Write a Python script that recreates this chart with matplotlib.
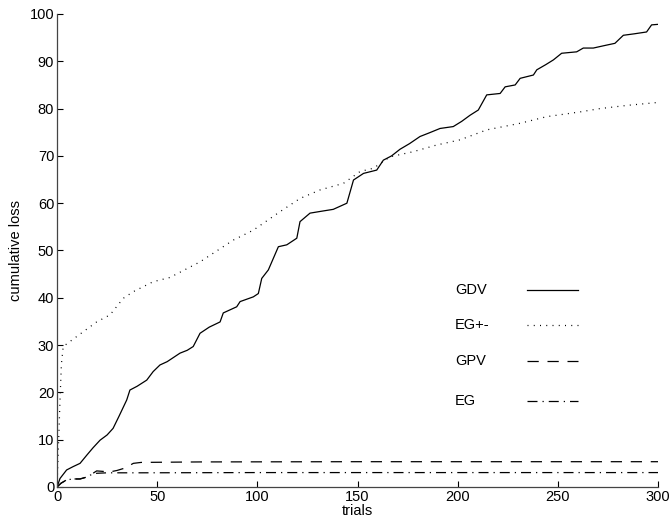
import matplotlib
matplotlib.use("Agg")
import matplotlib.pyplot as plt

plt.rcParams['font.family'] = ['Liberation Sans', 'DejaVu Sans']

# Cumulative loss of each algorithm over the trials
gdv_trials = [0, 1.5, 4.8, 8, 11.5, 15, 18, 21.5, 25, 28, 31, 34.8, 36.4, 40, 44.8, 48, 51.4, 55, 61.4, 65, 68, 71.4,
              76, 81.4, 83, 89.7, 91.4, 98, 100.5, 102.2, 105.5, 110.5, 114.7, 119.7, 121.3, 126.3, 132, 137.9, 144.7,
              148, 153, 159.6, 162.9, 167, 171.2, 176, 181.2, 186, 191.2, 197.8, 202, 206.2, 210.3, 214.5, 221.2,
              223.7, 228.7, 231.2, 237.8, 239.5, 244, 247.8, 251.9, 259.4, 262.7, 267.7, 273, 278.5, 282.7, 288,
              294.3, 296.8, 299.7]
gdv_loss = [0, 1.8, 3.6, 4.3, 5.0, 6.8, 8.3, 9.9, 11.0, 12.4, 15.0, 18.4, 20.5, 21.3, 22.6, 24.4, 25.8, 26.5, 28.3,
            28.9, 29.7, 32.5, 33.8, 34.9, 36.8, 38.1, 39.2, 40.2, 40.9, 44.1, 45.9, 50.8, 51.2, 52.6, 56.1, 57.9,
            58.3, 58.7, 60.0, 64.9, 66.3, 67.0, 69.1, 70.0, 71.4, 72.6, 74.1, 74.9, 75.8, 76.2, 77.3, 78.6, 79.7,
            82.9, 83.2, 84.6, 85.0, 86.4, 87.1, 88.2, 89.3, 90.3, 91.7, 92.0, 92.8, 92.8, 93.3, 93.8, 95.5, 95.8,
            96.2, 97.7, 97.8]

egpm_trials = [0, 0.5, 1, 1.5, 2.2, 3.1, 9.8, 19.8, 26.5, 33.1, 38.1, 48, 56.4, 71.4, 88, 98, 111.3, 121.3, 131.3,
               143, 151.3, 158, 166.2, 177.9, 189.5, 201.2, 214.5, 231.2, 244.5, 261.1, 271, 285, 300]
egpm_loss = [0, 6, 12, 18.4, 26, 29.7, 31.8, 34.9, 36.4, 39.9, 41.3, 43.4, 44.3, 47.6, 52.2, 54.3, 58.2, 61.0, 62.8,
             64.2, 66.7, 67.4, 69.8, 70.9, 72.3, 73.4, 75.5, 76.9, 78.3, 79.3, 80.0, 80.7, 81.3]

gpv_trials = [0, 2, 4.8, 8, 11.5, 14, 16.5, 19.8, 23, 26.5, 30, 33.1, 36, 38.1, 42, 71.4, 150, 300]
gpv_loss = [0, 0.8, 1.5, 1.7, 1.7, 2.0, 2.5, 3.4, 3.3, 3.2, 3.5, 3.9, 4.5, 5.0, 5.2, 5.3, 5.35, 5.35]

eg_trials = [0, 2, 4.8, 8, 11.5, 14, 16.5, 19.8, 25, 40, 100, 300]
eg_loss = [0, 0.8, 1.5, 1.7, 1.7, 2.0, 2.5, 2.9, 3.0, 3.0, 3.05, 3.05]

series_names = ['GDV', 'EG+-', 'GPV', 'EG']

x_ticks = [0, 50, 100, 150, 200, 250, 300]
y_ticks = [0, 10, 20, 30, 40, 50, 60, 70, 80, 90, 100]

FS = 10.5
W, H = 670, 523
fig = plt.figure(figsize=(W / 100, H / 100), dpi=100)
ax_l, ax_r, ax_t, ax_b = 57, 658, 14, 487
ax = fig.add_axes([ax_l / W, 1 - ax_b / H, (ax_r - ax_l) / W, (ax_b - ax_t) / H])

lw = 0.9
styles = ['-', (0, (0.8, 4.2)), (0, (9, 7)), (0, (8, 4, 1, 4))]
data = [(gdv_trials, gdv_loss), (egpm_trials, egpm_loss), (gpv_trials, gpv_loss), (eg_trials, eg_loss)]
for (xs, ys), ls, name in zip(data, styles, series_names):
    ax.plot(xs, ys, color='black', lw=lw, ls=ls, label=name)

ax.set_xlim(0, 300)
ax.set_ylim(0, 100)
ax.set_xticks(x_ticks)
ax.set_yticks(y_ticks)
ax.tick_params(direction='in', length=4, width=0.8, labelsize=FS, pad=2, colors='black')
for side in ('top', 'right'):
    ax.spines[side].set_visible(False)
for side in ('left', 'bottom'):
    ax.spines[side].set_color('#444444')
    ax.spines[side].set_linewidth(0.9)

ax.set_xlabel('trials', fontsize=FS, labelpad=0)
ax.set_ylabel('cumulative loss', fontsize=FS, labelpad=5)

# Key: label on the left, line sample on the right, no frame
def fx(px):
    return (px - ax_l) / (ax_r - ax_l)

def fy(py):
    return (ax_b - py) / (ax_b - ax_t)

row_y = [290, 325, 361, 401]
for name, ls, py in zip(series_names, styles, row_y):
    ax.text(fx(455), fy(py), name, transform=ax.transAxes, fontsize=FS, va='center', ha='left')
    ax.plot([fx(527), fx(578)], [fy(py), fy(py)], transform=ax.transAxes, color='black', lw=lw, ls=ls,
            clip_on=False)

fig.savefig('out.png', dpi=100)
